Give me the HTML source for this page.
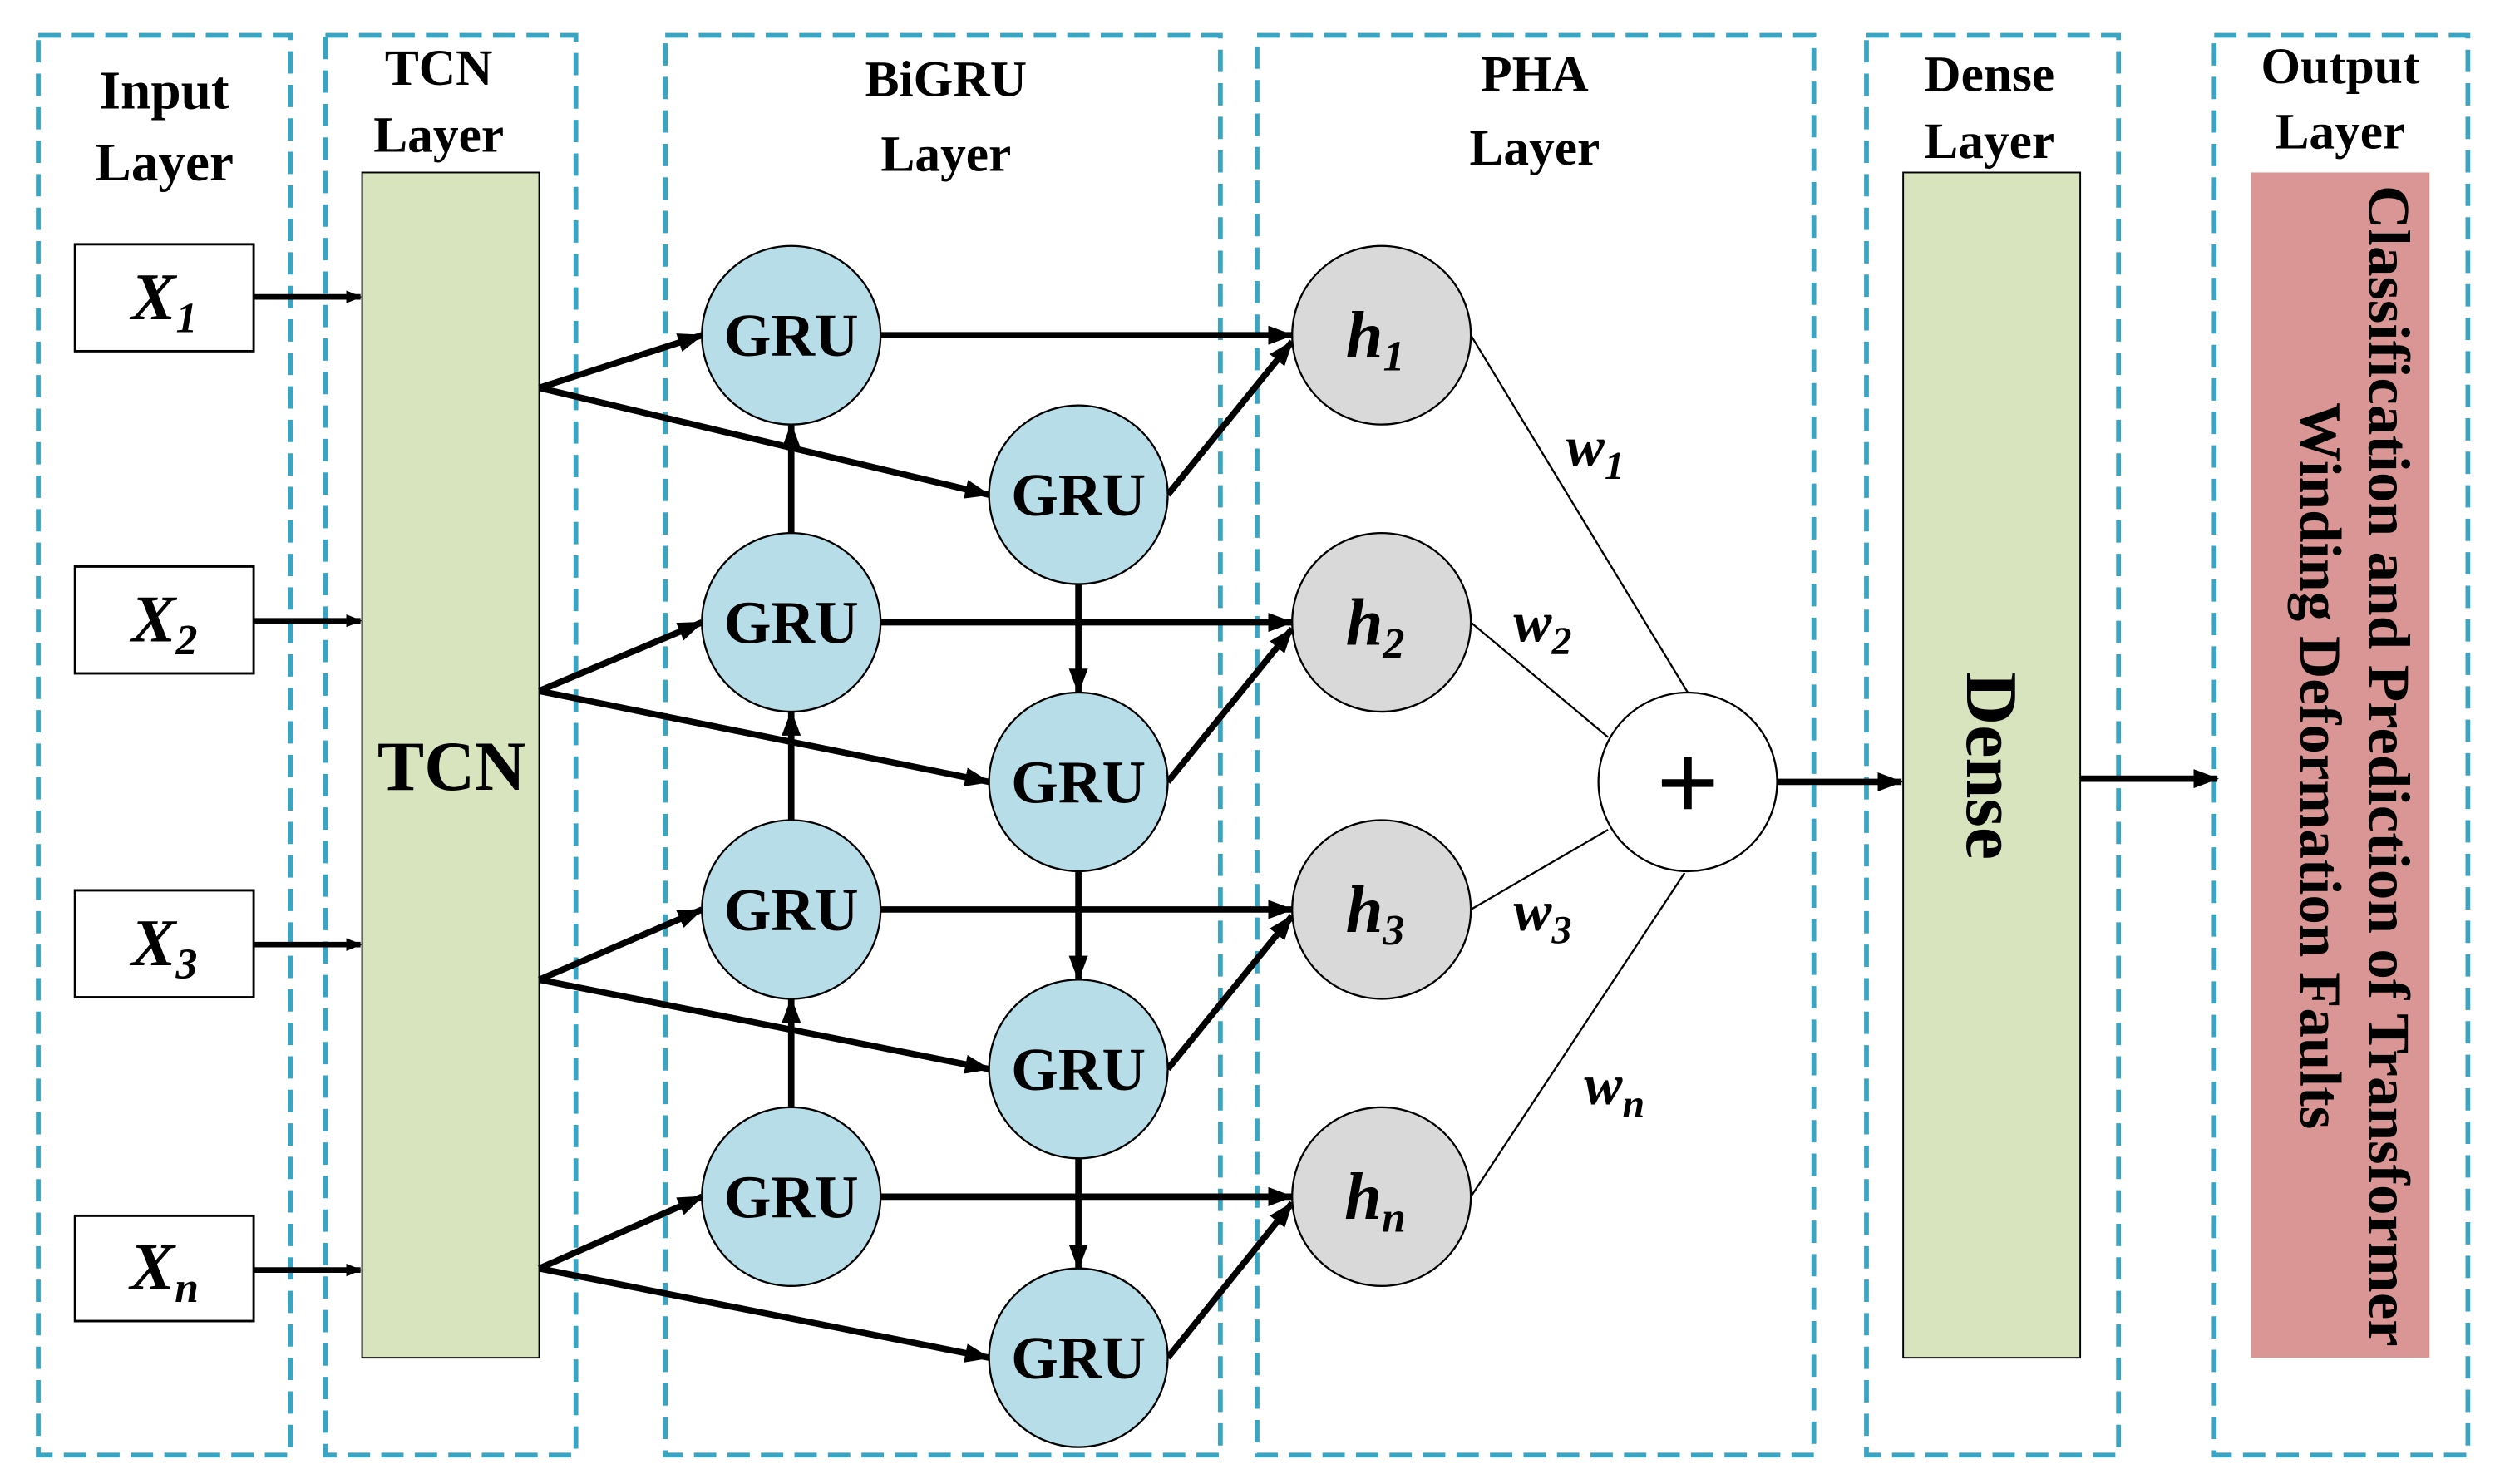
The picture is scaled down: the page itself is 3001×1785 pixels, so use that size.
<!DOCTYPE html>
<html><head><meta charset="utf-8"><style>
html,body{margin:0;padding:0;background:#fff;}
svg{display:block;}
text{font-family:"Liberation Serif",serif;font-weight:bold;fill:#000;}
</style></head><body>
<svg width="3001" height="1785" viewBox="0 0 1564 930" xmlns="http://www.w3.org/2000/svg">
<defs>
<marker id="a" markerWidth="10" markerHeight="8" refX="9" refY="4" orient="auto" markerUnits="userSpaceOnUse">
<path d="M0,0 L10,4 L0,8 z" fill="#000"/></marker>
<marker id="b" markerWidth="16" markerHeight="12" refX="15" refY="6" orient="auto" markerUnits="userSpaceOnUse">
<path d="M0,0 L16,6 L0,12 z" fill="#000"/></marker>
</defs>
<g fill="none" stroke="#3aa5c3" stroke-width="3" stroke-dasharray="14,7">
<rect x="24" y="22" width="158" height="890"/>
<rect x="204" y="22" width="157" height="890"/>
<rect x="417" y="22" width="348" height="890"/>
<rect x="788" y="22" width="349" height="890"/>
<rect x="1170" y="22" width="158" height="890"/>
<rect x="1388" y="22" width="159" height="890"/>
</g>
<g font-size="34" text-anchor="middle">
<text x="103" y="68">Input</text><text x="103" y="113">Layer</text>
<text x="275" y="53" font-size="32">TCN</text><text x="275" y="95" font-size="32">Layer</text>
<text x="593" y="60" font-size="32">BiGRU</text><text x="593" y="107" font-size="32">Layer</text>
<text x="962" y="57" font-size="32">PHA</text><text x="962" y="103" font-size="32">Layer</text>
<text x="1247" y="57" font-size="32">Dense</text><text x="1247" y="99" font-size="32">Layer</text>
<text x="1467" y="52" font-size="32">Output</text><text x="1467" y="93" font-size="32">Layer</text>
</g>
<g fill="#fff" stroke="#000" stroke-width="1.5">
<rect x="47" y="153" width="112" height="67"/>
<rect x="47" y="355" width="112" height="67"/>
<rect x="47" y="558" width="112" height="67"/>
<rect x="47" y="762" width="112" height="66"/>
</g>
<g font-size="42" font-style="italic" text-anchor="middle">
<text x="103" y="200">X<tspan font-size="27" dy="8">1</tspan></text>
<text x="103" y="402">X<tspan font-size="27" dy="8">2</tspan></text>
<text x="103" y="605">X<tspan font-size="27" dy="8">3</tspan></text>
<text x="103" y="808">X<tspan font-size="27" dy="8">n</tspan></text>
</g>
<g stroke="#000" stroke-width="3.5" marker-end="url(#a)">
<line x1="159" y1="186" x2="226" y2="186"/>
<line x1="159" y1="389" x2="226" y2="389"/>
<line x1="159" y1="592" x2="226" y2="592"/>
<line x1="159" y1="796" x2="226" y2="796"/>
</g>
<rect x="227" y="108" width="111" height="743" fill="#d7e4bd" stroke="#000" stroke-width="1"/>
<text x="283" y="495" font-size="44" text-anchor="middle">TCN</text>
<rect x="1193" y="108" width="111" height="743" fill="#d7e4bd" stroke="#000" stroke-width="1"/>
<text transform="translate(1233,480) rotate(90)" font-size="46" text-anchor="middle">Dense</text>
<rect x="1411" y="108" width="112" height="743" fill="#d99694"/>
<g transform="translate(1467,480) rotate(90)" font-size="37" text-anchor="middle">
<text x="0" y="-18" textLength="728" lengthAdjust="spacingAndGlyphs">Classification and Prediction of Transformer</text>
<text x="0" y="25">Winding Deformation Faults</text>
</g>
<g stroke="#000" stroke-width="4" marker-end="url(#b)" fill="none">
<line x1="338" y1="243" x2="440" y2="210"/><line x1="338" y1="243" x2="620" y2="310"/>
<line x1="338" y1="433" x2="440" y2="390"/><line x1="338" y1="433" x2="620" y2="490"/>
<line x1="338" y1="614" x2="440" y2="570"/><line x1="338" y1="614" x2="620" y2="670"/>
<line x1="338" y1="795" x2="440" y2="750"/><line x1="338" y1="795" x2="620" y2="851"/>
<line x1="496" y1="334" x2="496" y2="266"/><line x1="496" y1="514" x2="496" y2="446"/><line x1="496" y1="694" x2="496" y2="626"/>
<line x1="676" y1="366" x2="676" y2="434"/><line x1="676" y1="546" x2="676" y2="614"/><line x1="676" y1="726" x2="676" y2="795"/>
<line x1="552" y1="210" x2="810" y2="210"/><line x1="552" y1="390" x2="810" y2="390"/>
<line x1="552" y1="570" x2="810" y2="570"/><line x1="552" y1="750" x2="810" y2="750"/>
<line x1="732" y1="310" x2="810" y2="214"/><line x1="732" y1="490" x2="810" y2="394"/>
<line x1="732" y1="670" x2="810" y2="574"/><line x1="732" y1="851" x2="810" y2="754"/>
<line x1="1114" y1="490" x2="1192" y2="490"/><line x1="1304" y1="488" x2="1390" y2="488"/>
</g>
<g stroke="#000" stroke-width="1.2">
<line x1="922" y1="210" x2="1058" y2="434"/><line x1="922" y1="390" x2="1008" y2="462"/>
<line x1="922" y1="570" x2="1008" y2="520"/><line x1="922" y1="750" x2="1056" y2="547"/>
</g>
<g stroke="#000" stroke-width="1.2">
<g fill="#b7dde8">
<circle cx="496" cy="210" r="56"/><circle cx="496" cy="390" r="56"/><circle cx="496" cy="570" r="56"/><circle cx="496" cy="750" r="56"/>
<circle cx="676" cy="310" r="56"/><circle cx="676" cy="490" r="56"/><circle cx="676" cy="670" r="56"/><circle cx="676" cy="851" r="56"/>
</g>
<g fill="#d9d9d9">
<circle cx="866" cy="210" r="56"/><circle cx="866" cy="390" r="56"/><circle cx="866" cy="570" r="56"/><circle cx="866" cy="750" r="56"/>
</g>
<circle cx="1058" cy="490" r="56" fill="#fff"/>
</g>
<g font-size="38" text-anchor="middle">
<text x="496" y="223">GRU</text><text x="496" y="403">GRU</text><text x="496" y="583">GRU</text><text x="496" y="763">GRU</text>
<text x="676" y="323">GRU</text><text x="676" y="503">GRU</text><text x="676" y="683">GRU</text><text x="676" y="864">GRU</text>
</g>
<g font-size="42" font-style="italic" text-anchor="middle">
<text x="862" y="224">h<tspan font-size="27" dy="8">1</tspan></text>
<text x="862" y="404">h<tspan font-size="27" dy="8">2</tspan></text>
<text x="862" y="584">h<tspan font-size="27" dy="8">3</tspan></text>
<text x="862" y="764">h<tspan font-size="27" dy="8">n</tspan></text>
</g>
<g font-size="36" font-style="italic" text-anchor="middle">
<text x="1000" y="292">w<tspan font-size="25" dy="8">1</tspan></text>
<text x="967" y="402">w<tspan font-size="25" dy="8">2</tspan></text>
<text x="967" y="583">w<tspan font-size="25" dy="8">3</tspan></text>
<text x="1012" y="692">w<tspan font-size="25" dy="8">n</tspan></text>
</g>
<text x="1058" y="514" font-size="70" font-weight="normal" text-anchor="middle" font-family="Liberation Sans, sans-serif">+</text>
</svg>
</body></html>
